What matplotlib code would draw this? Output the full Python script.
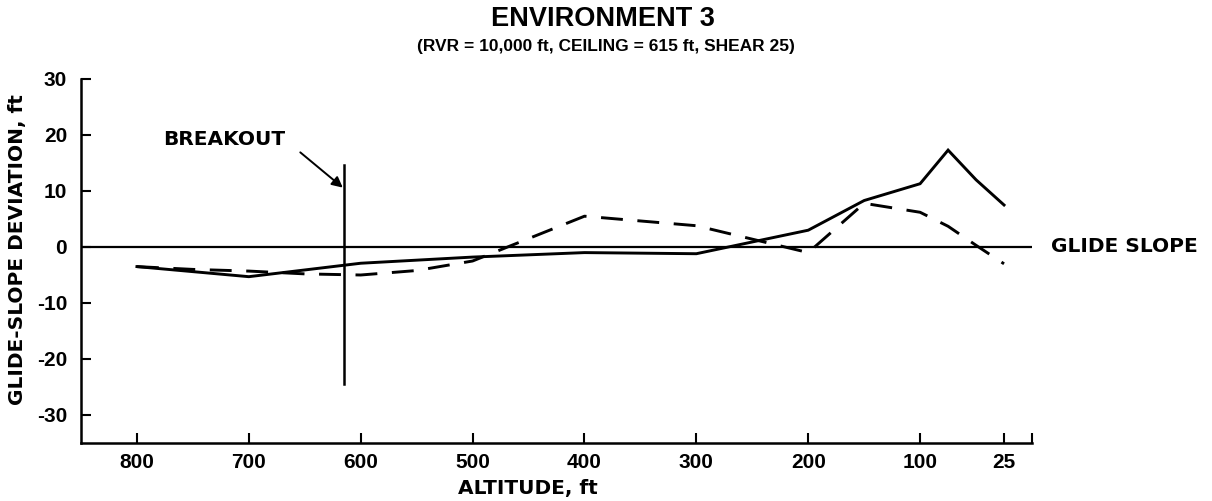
import matplotlib
matplotlib.use("Agg")
from matplotlib import pyplot as plt

# altitude (ft) and glide-slope deviation (ft)
solid_alt = [800, 700, 600, 500, 400, 300, 200, 150, 100, 75, 50, 25]
solid_dev = [-3.5, -5.3, -2.9, -1.8, -1.0, -1.2, 3.0, 8.3, 11.3, 17.3, 12.0, 7.5]

dash_alt = [800, 750, 700, 650, 600, 550, 500, 400, 300, 200, 150, 100, 75, 50, 25]
dash_dev = [-3.5, -4.0, -4.3, -4.8, -5.0, -4.2, -2.5, 5.5, 3.8, -1.0, 7.8, 6.2, 3.7, 0.3, -3.0]

xticks = [800, 700, 600, 500, 400, 300, 200, 100, 25, 0]
xlabels = ['800', '700', '600', '500', '400', '300', '200', '100', '25', '']
yticks = [-30, -20, -10, 0, 10, 20, 30]

breakout_alt = 615
breakout_span = (-24.5, 14.7)

tick_font = dict(family='Liberation Sans', weight='bold', size=15)
lab_font = dict(family='DejaVu Sans', weight='bold', size=14.5)

fig = plt.figure(figsize=(12.12, 5.01), dpi=100)
ax = fig.add_axes([81/1212, 1-443/501, (1032-81)/1212, (443-79)/501])

ax.axhline(0, color='black', lw=1.6)
ax.plot(solid_alt, solid_dev, color='black', lw=2.1, solid_joinstyle='miter')
ax.plot(dash_alt, dash_dev, color='black', lw=2.1, dashes=(7.5, 5))
ax.plot([breakout_alt, breakout_alt], breakout_span, color='black', lw=1.8)

ax.annotate('', xy=(breakout_alt + 1, 10.6), xytext=(654, 16.9),
            arrowprops=dict(arrowstyle='-|>', color='black', lw=1.4,
                            mutation_scale=16, shrinkA=0, shrinkB=0))
ax.text(722, 19.2, 'BREAKOUT', ha='center', va='center', **lab_font)
ax.text(-17, 0, 'GLIDE SLOPE', ha='left', va='center', clip_on=False, **lab_font)

ax.set_xlim(850, 0)
ax.set_ylim(-35, 30)
ax.set_xticks(xticks)
ax.set_xticklabels(xlabels, fontdict=tick_font)
ax.set_yticks(yticks)
ax.set_yticklabels([str(v) for v in yticks], fontdict=tick_font)
ax.tick_params(direction='in', length=7, width=1.5, color='black')
ax.tick_params(axis='x', pad=7)
ax.tick_params(axis='y', pad=10)

for s in ['top', 'right']:
    ax.spines[s].set_visible(False)
for s in ['left', 'bottom']:
    ax.spines[s].set_linewidth(1.8)

ax.set_xlabel('ALTITUDE, ft', **lab_font)
ax.xaxis.set_label_coords((528 - 81) / (1032 - 81), -(479 - 443) / (443 - 79))
ax.set_ylabel('GLIDE-SLOPE DEVIATION, ft', **lab_font)
ax.yaxis.set_label_coords(-(81 - 27) / (1032 - 81), (443 - 250) / (443 - 79))

fig.text(603/1212, 1-19/501, 'ENVIRONMENT 3', ha='center', va='center',
         family='Liberation Sans', weight='bold', size=19.5)
fig.text(606/1212, 1-46/501, '(RVR = 10,000 ft, CEILING = 615 ft, SHEAR 25)',
         ha='center', va='center', family='Liberation Sans', weight='bold', size=12.5)

fig.savefig('out.png', dpi=100)
